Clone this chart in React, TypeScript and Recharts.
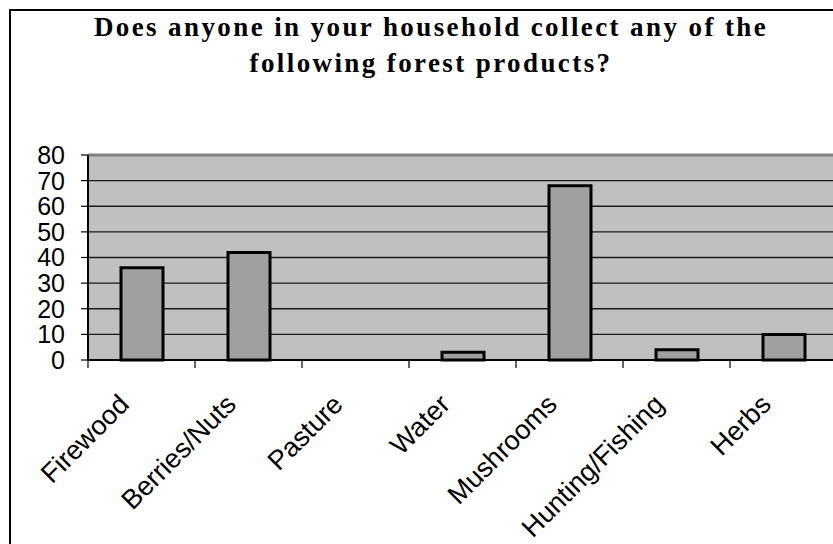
import React from 'react';
import {
  BarChart,
  Bar,
  XAxis,
  YAxis,
  CartesianGrid,
  ReferenceLine,
} from 'recharts';

const categories = [
  'Firewood',
  'Berries/Nuts',
  'Pasture',
  'Water',
  'Mushrooms',
  'Hunting/Fishing',
  'Herbs',
];
const counts = [36, 42, 0, 3, 68, 4, 10];
const yTicks = [0, 10, 20, 30, 40, 50, 60, 70, 80];
const titleLines = [
  'Does anyone in your household collect any of the',
  'following forest products?',
];

const data = categories.map((name, i) => ({ name, value: counts[i] }));

const sans = '"Liberation Sans", Arial, sans-serif';
const serif = '"Liberation Serif", "Times New Roman", serif';

// category label rotated -45deg, plus a tick mark on the left edge of each band
const CategoryTick = (props: any) => {
  const { x, y, payload } = props;
  const half = payload?.offset ?? 0;
  const tx = x - 11;
  const ty = y + 46;
  return (
    <g>
      <line x1={x - half} x2={x - half} y1={y} y2={y + 8} stroke="#000" strokeWidth={1.2} />
      <text
        x={tx}
        y={ty}
        transform={`rotate(-45 ${tx} ${ty})`}
        textAnchor="end"
        fontFamily={sans}
        fontSize={27}
        fill="#000"
      >
        {payload.value}
      </text>
    </g>
  );
};

export default function App() {
  return (
    <div
      style={{
        position: 'fixed',
        left: 0,
        top: 0,
        width: 833,
        height: 544,
        overflow: 'hidden',
        background: '#fff',
      }}
    >
      <div
        style={{
          position: 'absolute',
          left: 9,
          top: 9,
          width: 900,
          height: 600,
          borderLeft: '2px solid #000',
          borderTop: '2px solid #000',
        }}
      />
      <svg
        width={833}
        height={100}
        style={{ position: 'absolute', left: 0, top: 0 }}
      >
        {titleLines.map((line, i) => (
          <text
            key={line}
            x={431}
            y={36 + i * 36}
            textAnchor="middle"
            fontFamily={serif}
            fontWeight="bold"
            fontSize={27}
            letterSpacing={2.4}
            fill="#000"
          >
            {line}
          </text>
        ))}
      </svg>
      <div style={{ position: 'absolute', left: 0, top: 0 }}>
        <BarChart
          width={845}
          height={544}
          data={data}
          margin={{ top: 155, right: 8, left: 28, bottom: 34 }}
        >
          <CartesianGrid
            vertical={false}
            fill="#c0c0c0"
            fillOpacity={1}
            stroke="#1a1a1a"
            strokeWidth={1.3}
          />
          <ReferenceLine y={80} stroke="#808080" strokeWidth={3} />
          <XAxis
            dataKey="name"
            interval={0}
            height={150}
            tickSize={0}
            tickMargin={0}
            tickLine={false}
            axisLine={{ stroke: '#000', strokeWidth: 2 }}
            tick={<CategoryTick />}
          />
          <YAxis
            domain={[0, 80]}
            ticks={yTicks}
            interval={0}
            width={60}
            tickSize={7}
            tickMargin={16}
            axisLine={{ stroke: '#000', strokeWidth: 2 }}
            tickLine={{ stroke: '#000', strokeWidth: 1.2 }}
            tick={{ fontSize: 25, fill: '#000', fontFamily: sans }}
          />
          <Bar
            dataKey="value"
            fill="#a0a0a0"
            stroke="#000"
            strokeWidth={3}
            barSize={42}
            isAnimationActive={false}
          />
        </BarChart>
      </div>
    </div>
  );
}
